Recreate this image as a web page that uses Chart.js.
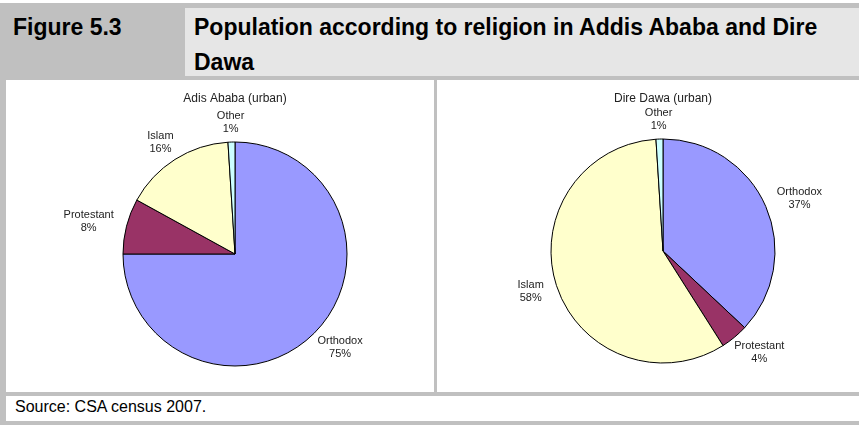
<!DOCTYPE html>
<html>
<head>
<meta charset="utf-8">
<script src="https://cdn.jsdelivr.net/npm/chart.js@4.4.0/dist/chart.umd.min.js"></script>
<style>
  body { margin: 0; background: #fff; width: 859px; height: 425px; position: relative; overflow: hidden; font-family: 'Liberation Sans', Arial, sans-serif; }
  .box { position: absolute; }
  #figLabel { left: 0; top: 3px; width: 185px; height: 77px; background: #c0c0c0; }
  #figTop { left: 185px; top: 3px; width: 674px; height: 5px; background: #c0c0c0; }
  #figTitleBox { left: 185px; top: 8px; width: 674px; height: 68px; background: #e6e6e6; }
  #figLine { left: 185px; top: 76px; width: 674px; height: 4px; background: #c0c0c0; }
  .head { position: absolute; font-weight: bold; font-size: 23px; line-height: 35px; color: #000; white-space: nowrap; }
  #leftEdge { left: 0; top: 80px; width: 6px; height: 345px; background: #c0c0c0; }
  #divider { left: 434px; top: 80px; width: 3px; height: 312px; background: #c0c0c0; }
  #srcTop { left: 0; top: 392px; width: 859px; height: 4px; background: #c0c0c0; }
  #srcBottom { left: 0; top: 421px; width: 859px; height: 4px; background: #c0c0c0; }
  #source { left: 15px; top: 398px; font-size: 16px; color: #000; white-space: nowrap; }
  canvas { position: absolute; }
</style>
</head>
<body>
<div class="box" id="figLabel"></div>
<div class="box" id="figTop"></div>
<div class="box" id="figTitleBox"></div>
<div class="box" id="figLine"></div>
<div class="head" style="left:13px; top:10px;">Figure 5.3</div>
<div class="head" style="left:194px; top:10px;">Population according to religion in Addis Ababa and Dire<br>Dawa</div>
<div class="box" id="leftEdge"></div>
<div class="box" id="divider"></div>
<div class="box" id="srcTop"></div>
<div class="box" id="srcBottom"></div>
<div class="box" id="source">Source: CSA census 2007.</div>

<canvas id="addisPie" width="428" height="312" style="left:6px; top:80px;"></canvas>
<canvas id="direPie" width="422" height="312" style="left:437px; top:80px;"></canvas>

<script>
// religion shares (%) in the two cities
var religions = ['Orthodox', 'Protestant', 'Islam', 'Other'];
var addisShare = [75, 8, 16, 1];
var direShare = [37, 4, 58, 1];

var sliceColors = ['#9999ff', '#993366', '#ffffcc', '#ccffff'];

// writes "name / xx%" just outside each slice
var sliceLabels = {
  id: 'sliceLabels',
  afterDatasetsDraw: function(chart) {
    var ctx = chart.ctx;
    var meta = chart.getDatasetMeta(0);
    var values = chart.data.datasets[0].data;
    ctx.save();
    ctx.font = '11px "Liberation Sans", Arial, sans-serif';
    ctx.fillStyle = '#222';
    ctx.textAlign = 'center';
    ctx.textBaseline = 'middle';
    meta.data.forEach(function(arc, i) {
      var p = arc.getProps(['x', 'y', 'startAngle', 'endAngle', 'outerRadius'], true);
      var mid = (p.startAngle + p.endAngle) / 2;
      var name = chart.data.labels[i];
      var pct = values[i] + '%';
      var w = Math.max(ctx.measureText(name).width, ctx.measureText(pct).width);
      var h = 26;
      var cx = p.x + Math.cos(mid) * (p.outerRadius + 14 + w / 2);
      var cy = p.y + Math.sin(mid) * (p.outerRadius + 7 + h / 2);
      ctx.fillText(name, cx, cy - 6.5);
      ctx.fillText(pct, cx, cy + 6.5);
    });
    ctx.restore();
  }
};

function setDataForCity(share) {
  return {
    labels: religions,
    datasets: [{
      data: share,
      backgroundColor: sliceColors,
      borderColor: '#000',
      borderWidth: 1,
      radius: 112
    }]
  };
}

function setOptionsForCity(title, bottomGap) {
  return {
    responsive: false,
    animation: false,
    devicePixelRatio: 1,
    events: [],
    layout: { padding: { left: 60, right: 30, top: 0, bottom: 20 } },
    plugins: {
      legend: { display: false },
      tooltip: { enabled: false },
      title: {
        display: true, text: title, color: '#222',
        font: { size: 12, family: "'Liberation Sans', Arial, sans-serif", weight: 'normal', lineHeight: 1.2 },
        padding: { top: 11, bottom: bottomGap }
      }
    }
  };
}

var ctxAddis = document.getElementById('addisPie').getContext('2d');
var chartAddis = new Chart(ctxAddis, { type: 'pie', data: setDataForCity(addisShare), options: setOptionsForCity('Adis Ababa (urban)', 30.6), plugins: [sliceLabels] });

var ctxDire = document.getElementById('direPie').getContext('2d');
var chartDire = new Chart(ctxDire, { type: 'pie', data: setDataForCity(direShare), options: setOptionsForCity('Dire Dawa (urban)', 24.6), plugins: [sliceLabels] });
</script>
</body>
</html>
